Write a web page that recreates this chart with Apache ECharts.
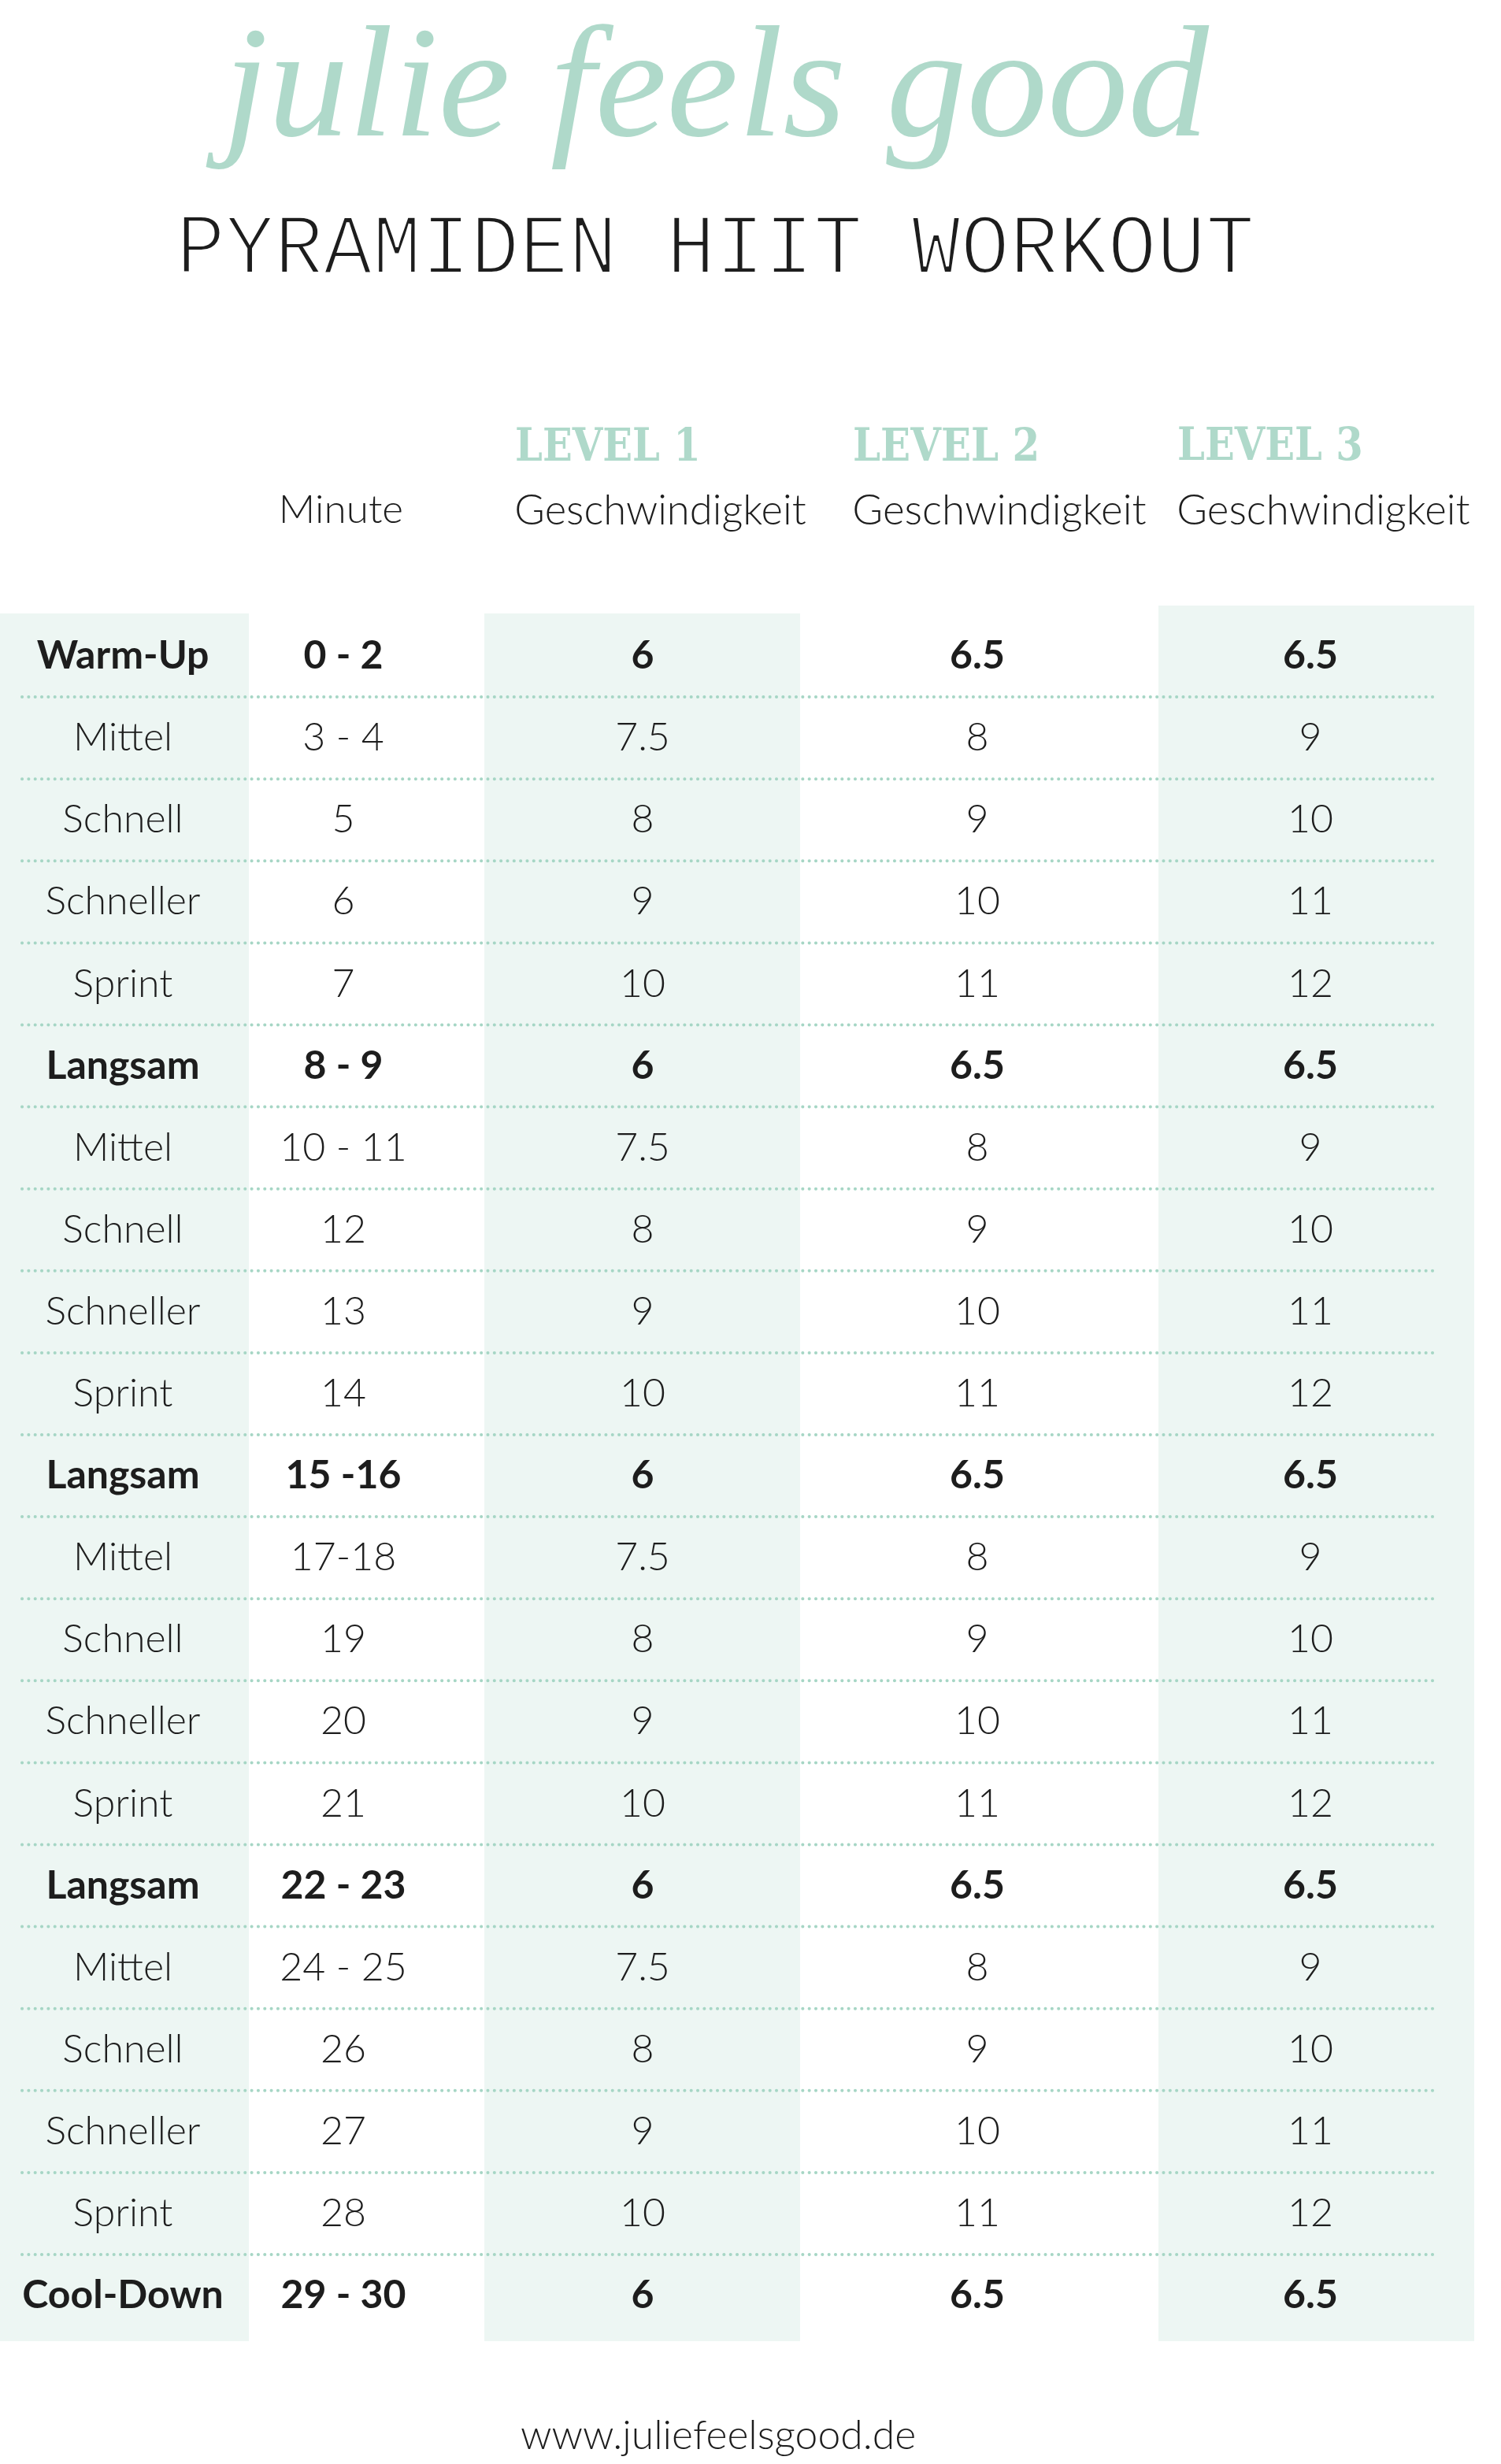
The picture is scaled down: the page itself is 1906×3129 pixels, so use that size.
<!DOCTYPE html>
<html><head><meta charset="utf-8">
<script src="https://cdn.jsdelivr.net/npm/echarts@6/dist/echarts.min.js"></script>
<style>html,body{margin:0;padding:0;background:#fff}#c{width:1906px;height:3129px}</style>
</head><body><div id="c"></div>
<script>
// ---------- DATA ----------
const brand = 'julie feels good';
const title = 'PYRAMIDEN HIIT WORKOUT';
const footer = 'www.juliefeelsgood.de';
const levelTitles = ['LEVEL 1', 'LEVEL 2', 'LEVEL 3'];
const headerMinute = 'Minute';
const headerSpeed = 'Geschwindigkeit';
const phases = ['Warm-Up','Mittel','Schnell','Schneller','Sprint',
  'Langsam','Mittel','Schnell','Schneller','Sprint',
  'Langsam','Mittel','Schnell','Schneller','Sprint',
  'Langsam','Mittel','Schnell','Schneller','Sprint','Cool-Down'];
const minutes = ['0 - 2','3 - 4','5','6','7',
  '8 - 9','10 - 11','12','13','14',
  '15 -16','17-18','19','20','21',
  '22 - 23','24 - 25','26','27','28','29 - 30'];
const level1 = [6,7.5,8,9,10, 6,7.5,8,9,10, 6,7.5,8,9,10, 6,7.5,8,9,10, 6];
const level2 = [6.5,8,9,10,11, 6.5,8,9,10,11, 6.5,8,9,10,11, 6.5,8,9,10,11, 6.5];
const level3 = [6.5,9,10,11,12, 6.5,9,10,11,12, 6.5,9,10,11,12, 6.5,9,10,11,12, 6.5];
const boldPhases = ['Warm-Up','Langsam','Cool-Down'];

// ---------- LAYOUT / STYLE ----------
const W = 1906, H = 3129;
const INK = '#1d1d1d', MINT = '#afd9ca', SHADE = '#edf6f3', DOT = '#a6d6c5';
const COL_X = [156, 436, 816, 1241, 1664];
const SHADE_COLS = [{c:0, x0:0, x1:316, padTop:2}, {c:2, x0:615, x1:1016, padTop:2}, {c:4, x0:1471, x1:1872, padTop:12}];
const GRID_TOP = 781, ROW_H = 104.1;
const columns = [phases, minutes, level1, level2, level3];

const mctx = document.createElement('canvas').getContext('2d');
function fitText(text, font, box, fill, extra) {
  mctx.font = font; mctx.textBaseline = 'middle'; mctx.textAlign = 'left';
  const m = mctx.measureText(text);
  const l = -m.actualBoundingBoxLeft, r = m.actualBoundingBoxRight;
  const t = -m.actualBoundingBoxAscent, b = m.actualBoundingBoxDescent;
  const sx = (box[1] - box[0]) / (r - l), sy = (box[3] - box[2]) / (b - t);
  const style = Object.assign({ text: text, font: font, fill: fill, align: 'left', verticalAlign: 'middle' }, extra || {});
  return { type: 'text', x: box[0] - l * sx, y: box[2] - t * sy, scaleX: sx, scaleY: sy, silent: true, style: style };
}

const TITLE_BOX = [231, 1590, 273, 348];
const titleEl = fitText(title, '100px "Liberation Mono"', TITLE_BOX, INK);
titleEl.z = 10;
// thin the heavy glyph strokes with a white outline drawn on top (erosion)
const titleThin = fitText(title, '100px "Liberation Mono"', TITLE_BOX, 'none', { stroke: '#ffffff', lineWidth: 3.6 });
titleThin.z = 11;

const graphics = [
  fitText(brand, 'italic 100px "Liberation Serif"', [261, 1537, 28, 214], MINT),
  titleEl, titleThin,
  fitText(levelTitles[0], 'bold 100px "DejaVu Serif"', [656, 885, 542, 585], MINT),
  fitText(levelTitles[1], 'bold 100px "DejaVu Serif"', [1085, 1316, 542, 585], MINT),
  fitText(levelTitles[2], 'bold 100px "DejaVu Serif"', [1497, 1728, 542, 585], MINT),
  fitText(headerMinute, '300 100px Lato', [359, 510, 628, 664], INK),
  fitText(headerSpeed, '300 100px Lato', [656, 1023, 627, 676], INK),
  fitText(headerSpeed, '300 100px Lato', [1085, 1455, 627, 676], INK),
  fitText(headerSpeed, '300 100px Lato', [1497, 1866, 627, 676], INK),
  fitText(footer, '300 100px Lato', [662, 1161, 3072, 3120], INK)
];

const cellData = [];
for (let r = 0; r < phases.length; r++) for (let c = 0; c < columns.length; c++) cellData.push([c, r]);
const ruleData = [];
for (let r = 0; r < phases.length - 1; r++) ruleData.push([0, r]);

const chart = echarts.init(document.getElementById('c'), null, { renderer: 'canvas' });
chart.setOption({
  animation: false,
  backgroundColor: '#ffffff',
  grid: { left: 0, right: 0, top: GRID_TOP, height: ROW_H * phases.length, containLabel: false },
  xAxis: { type: 'value', min: 0, max: W, show: false },
  yAxis: { type: 'category', data: minutes, inverse: true, show: false },
  graphic: graphics,
  series: [
    { type: 'custom', name: 'shade', z: 1, silent: true,
      data: SHADE_COLS.map(s => [s.c, 0]),
      renderItem: function (params, api) {
        const s = SHADE_COLS[params.dataIndex];
        const band = api.size([0, 1])[1];
        const top = api.coord([0, 0])[1] - band / 2 - s.padTop;
        const bottom = api.coord([0, phases.length - 1])[1] + band / 2 + 6;
        return { type: 'rect', shape: { x: s.x0, y: top, width: s.x1 - s.x0, height: bottom - top }, style: { fill: SHADE } };
      } },
    { type: 'custom', name: 'rules', z: 2, silent: true,
      data: ruleData,
      renderItem: function (params, api) {
        const band = api.size([0, 1])[1];
        const y = api.coord([0, api.value(1)])[1] + band / 2;
        return { type: 'line', shape: { x1: 28, y1: y, x2: 1820, y2: y },
          style: { stroke: DOT, lineWidth: 4, lineDash: [0.1, 8.23], lineCap: 'round' } };
      } },
    { type: 'custom', name: 'cells', z: 3, silent: true,
      data: cellData,
      renderItem: function (params, api) {
        const c = api.value(0), r = api.value(1);
        const p = api.coord([COL_X[c], r]);
        const bold = boldPhases.indexOf(phases[r]) >= 0;
        return { type: 'text', x: p[0], y: p[1],
          style: { text: String(columns[c][r]), font: (bold ? '700 ' : '300 ') + '50px Lato',
            fill: INK, align: 'center', verticalAlign: 'middle' } };
      } }
  ]
});
</script></body></html>
